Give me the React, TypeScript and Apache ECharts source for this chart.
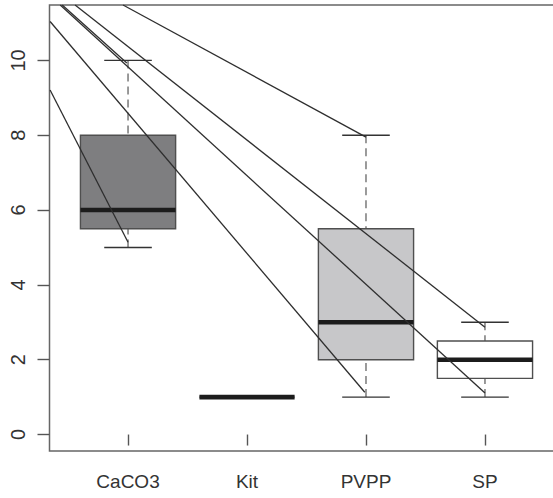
import React, { useEffect, useRef } from 'react';
import * as echarts from 'echarts';

const categories = ['CaCO3', 'Kit', 'PVPP', 'SP'];
const xPositions = [1, 2, 3, 4];
const whiskerLow = [5, 1, 1, 1];
const quartile1 = [5.5, 1, 2, 1.5];
const medians = [6, 1, 3, 2];
const quartile3 = [8, 1, 5.5, 2.5];
const whiskerHigh = [10, 1, 8, 3];
const boxFills = ['#7e7e80', '#ffffff', '#c7c7c9', '#ffffff'];
const yTicks = [0, 2, 4, 6, 8, 10];

// diagonal segments: start and end points in data units
const lineStarts = [
  [0.345, 9.21],
  [0.345, 11.04],
  [0.43, 11.48],
  [0.447, 11.48],
  [0.555, 11.48],
  [0.958, 11.48],
];
const lineEnds = [
  [1.0, 5.14],
  [2.99, 1.13],
  [4.0, 1.11],
  [0.99, 9.93],
  [4.0, 2.87],
  [3.0, 7.95],
];

const X_MIN = 0.34;
const X_MAX = 4.66;
const Y_MIN = -0.44;
const Y_MAX = 11.48;

export default function App() {
  const ref = useRef<HTMLDivElement>(null);

  useEffect(() => {
    if (!ref.current) return;
    const chart = echarts.init(ref.current, undefined, { renderer: 'svg' });

    const boxData = xPositions.map((x, i) => [
      x,
      whiskerLow[i],
      quartile1[i],
      medians[i],
      quartile3[i],
      whiskerHigh[i],
    ]);

    const dashStyle = { stroke: '#707070', lineWidth: 1.4, lineDash: [8, 5] };
    const capStyle = { stroke: '#333333', lineWidth: 1.4 };

    const lineSeries = lineStarts.map((s, i) => ({
      type: 'line',
      data: [s, lineEnds[i]],
      symbol: 'none',
      silent: true,
      z: 5,
      clip: true,
      lineStyle: { color: '#2e2e2e', width: 1.3 },
    }));

    chart.setOption({
      animation: false,
      textStyle: { fontFamily: 'Liberation Sans, Arial, sans-serif' },
      grid: {
        left: 49.5,
        top: 5,
        width: 514,
        height: 446,
        show: true,
        outerBoundsMode: 'none',
        containLabel: false,
        borderColor: '#666666',
        borderWidth: 1.5,
        backgroundColor: 'transparent',
      },
      xAxis: {
        type: 'value',
        min: X_MIN,
        max: X_MAX,
        axisLine: { show: false },
        splitLine: { show: false },
        axisTick: {
          show: true,
          customValues: xPositions,
          length: 11,
          lineStyle: { color: '#555555', width: 1.4 },
        },
        axisLabel: {
          customValues: xPositions,
          margin: 21,
          fontSize: 19,
          color: '#333333',
          formatter: (v: number) => categories[Math.round(v) - 1] ?? '',
        },
      },
      yAxis: {
        type: 'value',
        min: Y_MIN,
        max: Y_MAX,
        axisLine: { show: false },
        splitLine: { show: false },
        axisTick: {
          show: true,
          customValues: yTicks,
          length: 12,
          lineStyle: { color: '#555555', width: 1.4 },
        },
        axisLabel: {
          customValues: yTicks,
          rotate: 90,
          margin: 22,
          fontSize: 20,
          color: '#333333',
          formatter: (v: number) => String(v),
        },
      },
      series: [
        {
          type: 'custom',
          data: boxData,
          z: 2,
          silent: true,
          renderItem: (params: any, api: any) => {
            const x = api.value(0);
            const lo = api.value(1);
            const a = api.value(2);
            const m = api.value(3);
            const b = api.value(4);
            const hi = api.value(5);
            const xl = api.coord([x - 0.4, 0])[0];
            const xr = api.coord([x + 0.4, 0])[0];
            const cl = api.coord([x - 0.2, 0])[0];
            const cr = api.coord([x + 0.2, 0])[0];
            const xc = api.coord([x, 0])[0];
            const yLo = api.coord([x, lo])[1];
            const yA = api.coord([x, a])[1];
            const yM = api.coord([x, m])[1];
            const yB = api.coord([x, b])[1];
            const yHi = api.coord([x, hi])[1];
            const fill = boxFills[params.dataIndex];
            return {
              type: 'group',
              children: [
                { type: 'line', shape: { x1: xc, y1: yHi, x2: xc, y2: yB }, style: dashStyle },
                { type: 'line', shape: { x1: xc, y1: yLo, x2: xc, y2: yA }, style: dashStyle },
                { type: 'line', shape: { x1: cl, y1: yHi, x2: cr, y2: yHi }, style: capStyle },
                { type: 'line', shape: { x1: cl, y1: yLo, x2: cr, y2: yLo }, style: capStyle },
                {
                  type: 'rect',
                  shape: { x: xl, y: yB, width: xr - xl, height: yA - yB },
                  style: { fill, stroke: '#4f4f4f', lineWidth: 1.4 },
                },
                {
                  type: 'line',
                  shape: { x1: xl, y1: yM, x2: xr, y2: yM },
                  style: { stroke: '#1c1c1c', lineWidth: 4.6 },
                },
              ],
            };
          },
        },
        ...lineSeries,
      ],
    });

    return () => chart.dispose();
  }, []);

  return (
    <div
      ref={ref}
      style={{ position: 'fixed', left: 0, top: 0, width: 553, height: 498, background: '#ffffff' }}
    />
  );
}
